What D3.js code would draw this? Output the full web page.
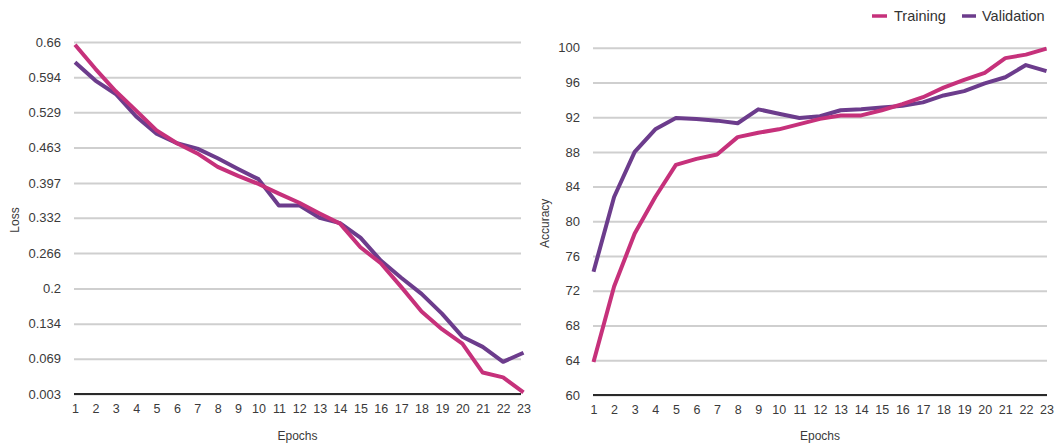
<!DOCTYPE html>
<html>
<head>
<meta charset="utf-8">
<script src="https://cdn.jsdelivr.net/npm/d3@7/dist/d3.min.js"></script>
<style>
  html, body { margin: 0; padding: 0; background: #fff; }
  svg { display: block; font-family: "Liberation Sans", Arial, sans-serif; }
</style>
</head>
<body>
<svg id="chart" width="1061" height="446"></svg>
<script>
// Training history, one value per epoch
const epochs = d3.range(1, 24);

const lossTraining = [0.655, 0.610, 0.568, 0.532, 0.495, 0.471, 0.452, 0.427, 0.410, 0.395,
  0.377, 0.360, 0.340, 0.321, 0.277, 0.247, 0.203, 0.157, 0.124, 0.097,
  0.043, 0.034, 0.006];
const lossValidation = [0.622, 0.588, 0.563, 0.521, 0.489, 0.471, 0.461, 0.443, 0.423, 0.404,
  0.355, 0.355, 0.332, 0.322, 0.295, 0.252, 0.220, 0.190, 0.153, 0.110,
  0.091, 0.063, 0.080];

const accTraining = [63.8, 72.5, 78.6, 82.8, 86.5, 87.2, 87.7, 89.7, 90.2, 90.6,
  91.2, 91.8, 92.2, 92.2, 92.8, 93.5, 94.3, 95.4, 96.3, 97.1,
  98.8, 99.2, 99.9];
const accValidation = [74.2, 82.8, 88.0, 90.6, 91.9, 91.8, 91.6, 91.3, 92.9, 92.4,
  91.9, 92.1, 92.8, 92.9, 93.1, 93.3, 93.7, 94.5, 95.0, 95.9,
  96.6, 98.0, 97.3];

const lossTicks = [0.003, 0.069, 0.134, 0.2, 0.266, 0.332, 0.397, 0.463, 0.529, 0.594, 0.66];
const accTicks = [60, 64, 68, 72, 76, 80, 84, 88, 92, 96, 100];

const seriesNames = ["Training", "Validation"];
const colors = { Training: "#c6317b", Validation: "#6c3c8c" };

const svg = d3.select("#chart");

function drawPanel(cfg) {
  const g = svg.append("g");
  const x = d3.scaleLinear().domain([1, 23]).range([cfg.x0, cfg.x1]);
  const y = d3.scaleLinear().domain(cfg.domain).range([cfg.yBottom, cfg.yTop]);

  // horizontal gridlines + tick labels
  const yAxis = d3.axisLeft(y)
    .tickValues(cfg.ticks)
    .tickFormat(d => String(d))
    .tickSize(-(cfg.gridEnd - cfg.gridStart))
    .tickPadding(13);
  const ya = g.append("g")
    .attr("transform", `translate(${cfg.gridStart},0)`)
    .call(yAxis);
  ya.select(".domain").remove();
  ya.selectAll(".tick line")
    .attr("stroke", "#cfcfcf")
    .attr("stroke-width", 2);
  ya.selectAll(".tick text")
    .attr("fill", "#3a3a3a")
    .style("font-size", "13px");

  // bottom axis with epoch numbers
  const xAxis = d3.axisBottom(x)
    .tickValues(epochs)
    .tickFormat(d3.format("d"))
    .tickSize(0)
    .tickPadding(10);
  const xa = g.append("g")
    .attr("transform", `translate(0,${cfg.yBottom})`)
    .call(xAxis);
  xa.select(".domain")
    .attr("d", `M${cfg.gridStart},0H${cfg.gridEnd}`)
    .attr("stroke", "#2a2a2a")
    .attr("stroke-width", 2.2);
  xa.selectAll(".tick text")
    .attr("fill", "#3a3a3a")
    .style("font-size", "12.5px");

  // axis titles
  g.append("text")
    .attr("x", (cfg.gridStart + cfg.gridEnd) / 2)
    .attr("y", 440)
    .attr("text-anchor", "middle")
    .attr("fill", "#3a3a3a")
    .style("font-size", "12px")
    .text("Epochs");
  g.append("text")
    .attr("transform", `translate(${cfg.yLabelX},${(cfg.yTop + cfg.yBottom) / 2 + 2}) rotate(-90)`)
    .attr("text-anchor", "middle")
    .attr("fill", "#3a3a3a")
    .style("font-size", "12px")
    .text(cfg.yLabel);

  const line = d3.line()
    .x((d, i) => x(epochs[i]))
    .y(d => y(d));

  // validation underneath, training on top
  [["Validation", cfg.validation], ["Training", cfg.training]].forEach(([name, vals]) => {
    g.append("path")
      .datum(vals)
      .attr("d", line)
      .attr("fill", "none")
      .attr("stroke", colors[name])
      .attr("stroke-width", 4)
      .attr("stroke-linejoin", "round")
      .attr("stroke-linecap", "butt");
  });
}

drawPanel({
  x0: 75, x1: 523.5, gridStart: 74, gridEnd: 521,
  yTop: 42, yBottom: 394,
  domain: [0.003, 0.66], ticks: lossTicks,
  training: lossTraining, validation: lossValidation,
  yLabel: "Loss", yLabelX: 19
});

drawPanel({
  x0: 593.5, x1: 1046.5, gridStart: 593, gridEnd: 1047,
  yTop: 47.7, yBottom: 395,
  domain: [60, 100], ticks: accTicks,
  training: accTraining, validation: accValidation,
  yLabel: "Accuracy", yLabelX: 549
});

// legend
const legend = svg.append("g");
const legendItems = [
  { name: seriesNames[0], x1: 872, x2: 887, tx: 894 },
  { name: seriesNames[1], x1: 962, x2: 976, tx: 982 }
];
legendItems.forEach(it => {
  legend.append("line")
    .attr("x1", it.x1).attr("x2", it.x2)
    .attr("y1", 16).attr("y2", 16)
    .attr("stroke", colors[it.name])
    .attr("stroke-width", 3.5);
  legend.append("text")
    .attr("x", it.tx).attr("y", 21)
    .attr("fill", "#333")
    .style("font-size", "14.5px")
    .text(it.name);
});
</script>
</body>
</html>
